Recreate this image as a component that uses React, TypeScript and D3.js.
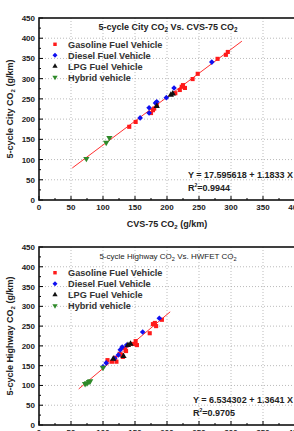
import * as d3 from 'd3'

// ---- data ----
const cityGasoline = [[141, 181], [151, 193], [175, 215], [178, 222], [180, 226], [184, 235], [213, 264], [220, 272], [223, 280], [225, 284], [228, 277], [240, 299], [248, 312], [279, 349], [292, 359], [295, 366]]
const cityDiesel = [[158, 203], [172, 215], [172, 228], [182, 240], [184, 243], [199, 253], [211, 277], [270, 341]]
const cityLpg = [[184, 232], [206, 260], [209, 263]]
const cityHybrid = [[74, 102], [105, 142], [110, 154]]

const hwyGasoline = [[107, 164], [114, 160], [119, 170], [121, 160], [126, 180], [129, 177], [131, 172], [134, 194], [136, 187], [147, 205], [151, 212], [153, 202], [173, 232], [178, 255], [181, 258], [183, 250], [192, 266]]
const hwyDiesel = [[100, 147], [105, 157], [118, 168], [124, 177], [127, 190], [130, 197], [137, 202], [162, 235], [188, 270]]
const hwyLpg = [[116, 167], [132, 174], [139, 202], [143, 205]]
const hwyHybrid = [[72, 104], [75, 106], [78, 109], [80, 111], [100, 145]]

const legendNames = ['Gasoline Fuel Vehicle', 'Diesel Fuel Vehicle', 'LPG Fuel Vehicle', 'Hybrid vehicle']
const xTicks = [0, 50, 100, 150, 200, 250, 300, 350, 400]
const yTicks = [0, 50, 100, 150, 200, 250, 300, 350, 400, 450]

const cityFit = { a: 17.595618, b: 1.1833, r2: '0.9944', from: 52, to: 317 }
const hwyFit = { a: 6.534302, b: 1.3641, r2: '0.9705', from: 62, to: 205 }

const colors = ['#ff1a1a', '#1010f0', '#111111', '#2f8a2a']
const shapes = [d3.symbolSquare, d3.symbolDiamond2, d3.symbolTriangle, d3.symbolTriangle]

const FONT = '"Liberation Sans", Arial, sans-serif'

function Panel({ top, bottom, series, fit, title, titleWeight, titleSize, yLabel, xLabel, eqX, eqY }: any) {
  const x = d3.scaleLinear().domain([0, 400]).range([39, 295])
  const y = d3.scaleLinear().domain([0, 450]).range([bottom, top])
  const minor = d3.range(25, 400, 50)
  const minorY = d3.range(25, 450, 50)
  const line = d3.line<number>().x(v => x(v)).y(v => y(fit.a + fit.b * v))
  const legendTop = y(385)
  return (
    <g fontFamily={FONT}>
      {/* grid */}
      {xTicks.slice(1, -1).map(t => (
        <line key={'gx' + t} x1={x(t)} x2={x(t)} y1={top} y2={bottom} stroke="#aaa" strokeWidth={0.8} strokeDasharray="1,2" />
      ))}
      {yTicks.slice(1, -1).map(t => (
        <line key={'gy' + t} x1={x(0)} x2={x(400)} y1={y(t)} y2={y(t)} stroke="#aaa" strokeWidth={0.8} strokeDasharray="1,2" />
      ))}
      {/* ticks */}
      {xTicks.map(t => <line key={'tx' + t} x1={x(t)} x2={x(t)} y1={bottom} y2={bottom - 4} stroke="#000" strokeWidth={1} />)}
      {minor.map(t => <line key={'mx' + t} x1={x(t)} x2={x(t)} y1={bottom} y2={bottom - 2} stroke="#000" strokeWidth={1} />)}
      {yTicks.map(t => <line key={'ty' + t} x1={x(0)} x2={x(0) + 4} y1={y(t)} y2={y(t)} stroke="#000" strokeWidth={1} />)}
      {minorY.map(t => <line key={'my' + t} x1={x(0)} x2={x(0) + 2} y1={y(t)} y2={y(t)} stroke="#000" strokeWidth={1} />)}
      {/* frame */}
      <rect x={x(0)} y={top} width={x(400) - x(0)} height={bottom - top} fill="none" stroke="#111" strokeWidth={1.6} />
      {/* tick labels */}
      {yTicks.map(t => (
        <text key={'ly' + t} x={x(0) - 4} y={y(t) + 3} fontSize={8} fontWeight="bold" textAnchor="end" fill="#222">{t}</text>
      ))}
      {xTicks.map(t => (
        <text key={'lx' + t} x={x(t)} y={bottom + 10} fontSize={8} fontWeight="bold" textAnchor="middle" fill="#222">{t}</text>
      ))}
      {/* title */}
      <text x={168} y={top + 12} fontSize={titleSize} fontWeight={titleWeight} textAnchor="middle" fill="#222">
        {title[0]}<tspan fontSize={titleSize * 0.7} dy={2}>2</tspan><tspan dy={-2}>{title[1]}</tspan><tspan fontSize={titleSize * 0.7} dy={2}>2</tspan>
      </text>
      {/* regression line */}
      <path d={line([fit.from, fit.to]) || ''} stroke="#ff3030" strokeWidth={1} fill="none" />
      {/* points */}
      {series.map((pts: number[][], i: number) => pts.map((p, j) => (
        <path key={i + '-' + j}
          d={d3.symbol().type(shapes[i]).size(i === 1 ? 20 : 17)() || ''}
          transform={`translate(${x(p[0])},${y(p[1])})${i === 3 ? ' rotate(180)' : ''}`}
          fill={colors[i]} />
      )))}
      {/* legend */}
      {legendNames.map((n, i) => (
        <g key={n} transform={`translate(0,${legendTop + i * 11})`}>
          <path d={d3.symbol().type(shapes[i]).size(i === 1 ? 16 : 12)() || ''}
            transform={`translate(55,0)${i === 3 ? ' rotate(180)' : ''}`} fill={colors[i]} />
          <text x={68} y={3.5} fontSize={9.2} fontWeight="bold" fill="#333">{n}</text>
        </g>
      ))}
      {/* equation */}
      <text x={eqX} y={eqY} fontSize={9} fontWeight="bold" fill="#222">{`Y = ${fit.a} + ${fit.b} X`}</text>
      <text x={eqX} y={eqY + 13} fontSize={9} fontWeight="bold" fill="#222">
        R<tspan fontSize={5} dy={-4}>2</tspan><tspan dy={4}>{`=${fit.r2}`}</tspan>
      </text>
      {/* axis titles */}
      <text transform={`translate(13,${(top + bottom) / 2}) rotate(-90)`} fontSize={9} fontWeight="bold" textAnchor="middle" fill="#222">
        {yLabel}CO<tspan fontSize={6} dy={2}>2</tspan><tspan dy={-2}> (g/km)</tspan>
      </text>
      {xLabel && (
        <text x={167} y={bottom + 27} fontSize={9} fontWeight="bold" textAnchor="middle" fill="#222">
          {xLabel}<tspan fontSize={6} dy={2}>2</tspan><tspan dy={-2}> (g/km)</tspan>
        </text>
      )}
    </g>
  )
}

export default function App() {
  return (
    <svg width={294} height={431} style={{ position: 'absolute', left: 0, top: 0, background: '#fff' }}>
      <Panel top={18} bottom={200}
        series={[cityGasoline, cityDiesel, cityLpg, cityHybrid]}
        fit={cityFit} title={['5-cycle City CO', ' Vs. CVS-75 CO']} titleWeight="bold" titleSize={9}
        yLabel="5-cycle City " xLabel="CVS-75 CO" eqX={188} eqY={178} />
      <Panel top={247} bottom={425}
        series={[hwyGasoline, hwyDiesel, hwyLpg, hwyHybrid]}
        fit={hwyFit} title={['5-cycle Highway CO', ' Vs. HWFET CO']} titleWeight="normal" titleSize={8}
        yLabel="5-cycle Highway " xLabel={null} eqX={193} eqY={403} />
    </svg>
  )
}
